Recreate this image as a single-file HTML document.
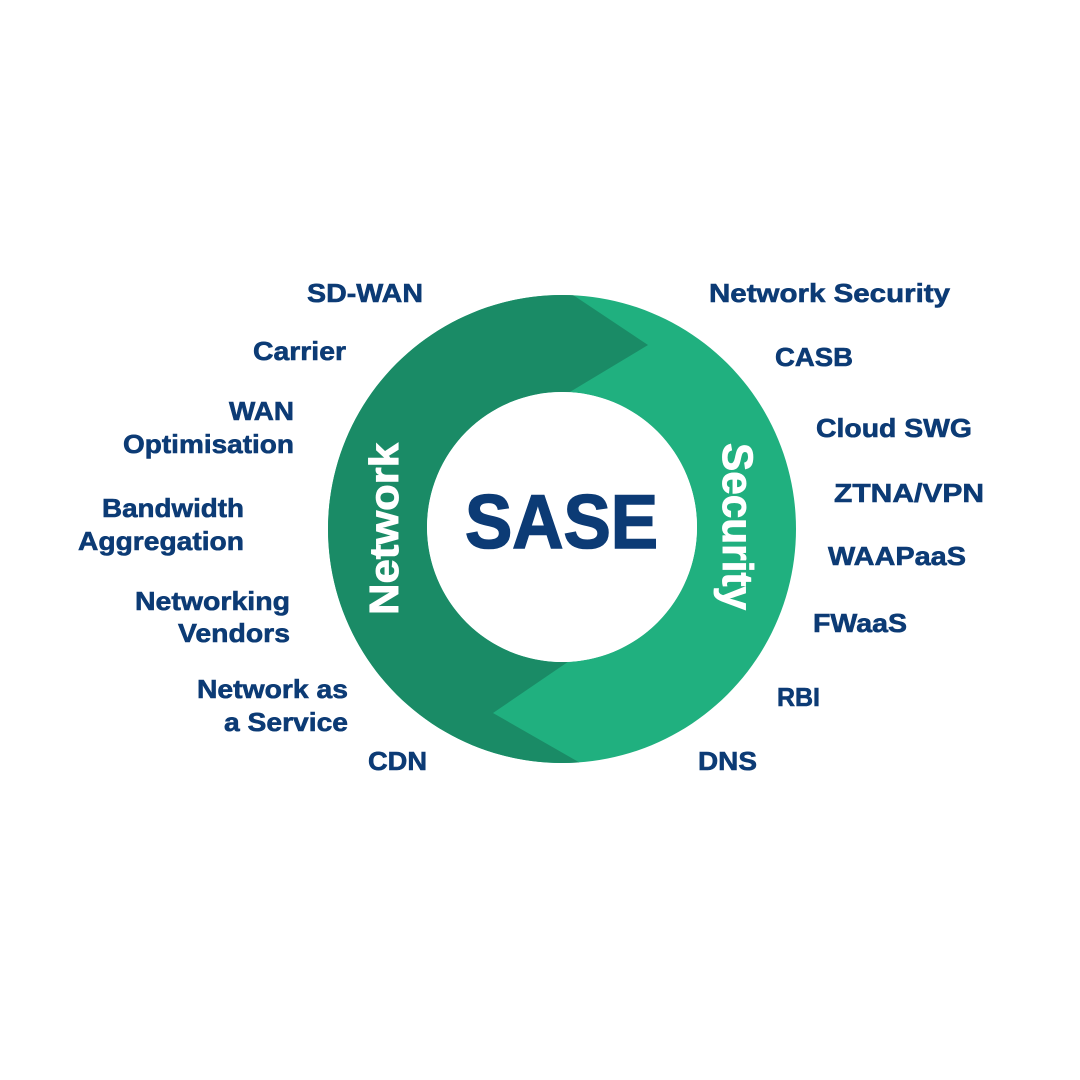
<!DOCTYPE html>
<html>
<head>
<meta charset="utf-8">
<style>
  html, body { margin:0; padding:0; background:#ffffff; }
  svg { display:block; }
  .lbl { font-family:"Liberation Sans", Arial, sans-serif; font-weight:bold; font-size:26px; fill:#0c3b75; stroke:#0c3b75; stroke-width:0.6px; }
</style>
</head>
<body>
<svg width="1080" height="1080" viewBox="0 0 1080 1080" xmlns="http://www.w3.org/2000/svg">
  <defs>
    <clipPath id="ring">
      <path clip-rule="evenodd" fill-rule="evenodd" d="M562,295 a234,234 0 1,0 0.01,0 Z M562,392 a135,135 0 1,1 -0.01,0 Z"/>
    </clipPath>
  </defs>
  <rect width="1080" height="1080" fill="#ffffff"/>
  <g clip-path="url(#ring)">
    <rect x="300" y="260" width="520" height="540" fill="#20b07f"/>
    <polygon fill="#1a8b66" points="528,265 648,345 520,422 600,640 493,713 610,780 280,800 280,250"/>
  </g>
  <circle cx="562" cy="527" r="135" fill="#ffffff"/>

  <text x="465" y="548" font-family="Liberation Sans, Arial, sans-serif" font-weight="bold" font-size="76" fill="#0c3b75" stroke="#0c3b75" stroke-width="1.6" textLength="193" lengthAdjust="spacingAndGlyphs">SASE</text>

  <text transform="translate(398,615) rotate(-90)" x="0" y="0" font-family="Liberation Sans, Arial, sans-serif" font-weight="bold" font-size="41" fill="#ffffff" stroke="#ffffff" stroke-width="0.9" textLength="172" lengthAdjust="spacingAndGlyphs">Network</text>
  <text transform="translate(723,443) rotate(90)" x="0" y="0" font-family="Liberation Sans, Arial, sans-serif" font-weight="bold" font-size="43" fill="#ffffff" stroke="#ffffff" stroke-width="0.9" textLength="167" lengthAdjust="spacingAndGlyphs">Security</text>

  <!-- Left labels -->
  <text class="lbl" x="307" y="302" textLength="116" lengthAdjust="spacingAndGlyphs">SD-WAN</text>
  <text class="lbl" x="253" y="360" textLength="93" lengthAdjust="spacingAndGlyphs">Carrier</text>
  <text class="lbl" x="229" y="420" textLength="65" lengthAdjust="spacingAndGlyphs">WAN</text>
  <text class="lbl" x="123" y="453" textLength="171" lengthAdjust="spacingAndGlyphs">Optimisation</text>
  <text class="lbl" x="102" y="517" textLength="142" lengthAdjust="spacingAndGlyphs">Bandwidth</text>
  <text class="lbl" x="78" y="550" textLength="166" lengthAdjust="spacingAndGlyphs">Aggregation</text>
  <text class="lbl" x="135" y="610" textLength="155" lengthAdjust="spacingAndGlyphs">Networking</text>
  <text class="lbl" x="178" y="642" textLength="112" lengthAdjust="spacingAndGlyphs">Vendors</text>
  <text class="lbl" x="197" y="698" textLength="151" lengthAdjust="spacingAndGlyphs">Network as</text>
  <text class="lbl" x="224" y="731" textLength="124" lengthAdjust="spacingAndGlyphs">a Service</text>
  <text class="lbl" x="368" y="770" textLength="59" lengthAdjust="spacingAndGlyphs">CDN</text>

  <!-- Right labels -->
  <text class="lbl" x="709" y="302" textLength="241" lengthAdjust="spacingAndGlyphs">Network Security</text>
  <text class="lbl" x="775" y="366" textLength="78" lengthAdjust="spacingAndGlyphs">CASB</text>
  <text class="lbl" x="816" y="437" textLength="156" lengthAdjust="spacingAndGlyphs">Cloud SWG</text>
  <text class="lbl" x="834" y="502" textLength="150" lengthAdjust="spacingAndGlyphs">ZTNA/VPN</text>
  <text class="lbl" x="828" y="565" textLength="138" lengthAdjust="spacingAndGlyphs">WAAPaaS</text>
  <text class="lbl" x="813" y="632" textLength="94" lengthAdjust="spacingAndGlyphs">FWaaS</text>
  <text class="lbl" x="777" y="706" textLength="43" lengthAdjust="spacingAndGlyphs">RBI</text>
  <text class="lbl" x="698" y="770" textLength="59" lengthAdjust="spacingAndGlyphs">DNS</text>
</svg>
</body>
</html>
